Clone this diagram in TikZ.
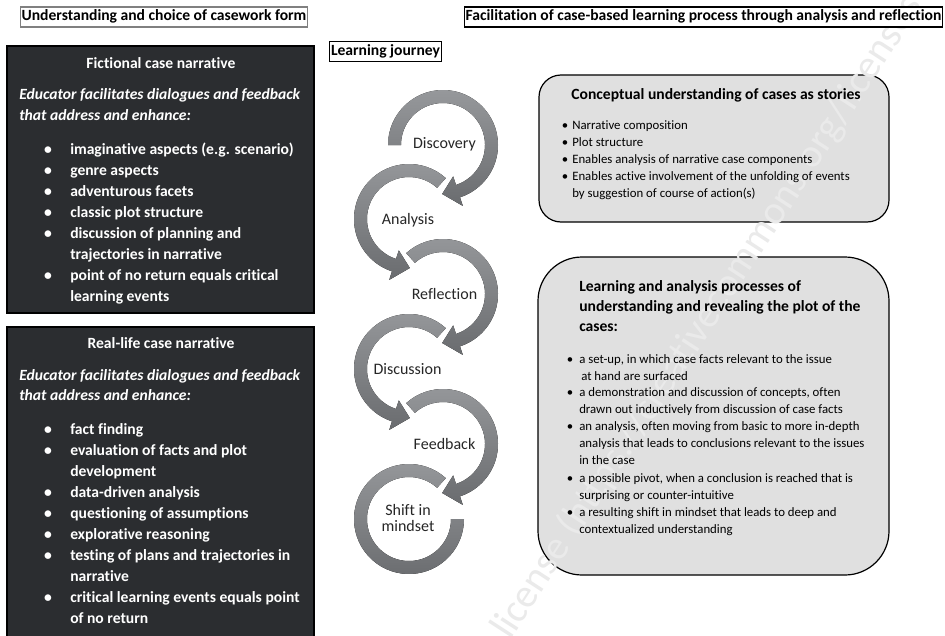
\documentclass[tikz,border=0pt]{standalone}
\usepackage{fontspec}
\setmainfont{Carlito}[Ligatures=NoCommon]
\usetikzlibrary{fit}
\definecolor{darkbox}{HTML}{2B2D30}
\definecolor{lightbox}{HTML}{E0E0E0}
\definecolor{arrowtop}{HTML}{96989B}
\definecolor{arrowbot}{HTML}{6A6C6F}
\definecolor{labelgray}{HTML}{262626}
\definecolor{wmark}{HTML}{EAEAEA}
\newcommand{\jhead}{\fontsize{11.7}{16}\selectfont\bfseries}
\newcommand{\jsmall}{\fontsize{9.6}{12.8}\selectfont}
\newcommand{\jlabel}{\fontsize{12}{13}\selectfont}
% circular arrow: #1 centre, #2 start angle, #3 end angle, #4 tip angle
\newcommand{\jarrow}[4]{%
  \fill[arrowshade] ([shift={(#2:55)}]#1) arc[start angle=#2, end angle=#3, radius=55]
    -- ([shift={(#3:64)}]#1) -- ([shift={(#4:49)}]#1) -- ([shift={(#3:33)}]#1)
    -- ([shift={(#3:42)}]#1) arc[start angle=#3, end angle=#2, radius=42] -- cycle;}
\tikzset{
  arrowshade/.style={top color=arrowtop, bottom color=arrowbot},
  panel/.style={draw=black, line width=1.1pt, fill=darkbox, inner sep=0pt},
  lpanel/.style={draw=black, line width=0.9pt, fill=lightbox, inner sep=0pt},
  titlebox/.style={draw=#1, line width=0.8pt, inner xsep=1pt, inner ysep=1.5pt,
    text height=9pt, text depth=3pt, font=\jhead},
  wline/.style={text=white, inner sep=0pt, anchor=base west, font=\jhead},
  wital/.style={text=white, inner sep=0pt, anchor=base west, font=\jhead\itshape},
  wcenter/.style={text=white, inner sep=0pt, anchor=base, font=\jhead},
  bline/.style={text=black, inner sep=0pt, anchor=base west, font=\jsmall},
  bhead/.style={text=black, inner sep=0pt, anchor=base west, font=\jhead},
  bbul/.style={text=black, inner sep=0pt, anchor=base, font=\jsmall},
  steplabel/.style={text=labelgray, inner sep=0pt, anchor=base, font=\jlabel},
  wmarkstyle/.style={text=wmark, inner sep=0pt, anchor=base west,
    font=\fontsize{30.2}{32}\selectfont}
}
\begin{document}
\begin{tikzpicture}[x=0.75pt,y=-0.75pt]
\useasboundingbox (0,0) rectangle (945,635);
\fill[white] (0,0) rectangle (945,635);

% ---- panels (drawn first)
\node[panel, fit={(7,46) (314,313)}] (fic) {};
\node[panel, fit={(7,327) (314,650)}] (real) {};
\draw[lpanel, rounded corners=16.5pt] (539,75) rectangle (889,222);
\draw[lpanel, rounded corners=33pt] (538,257) rectangle (889,575);

% ---- watermark (behind the texts)
\node[wmarkstyle, rotate=57] (wm) at (510,641) {license (https://creativecommons.org/licenses};

% ---- titles
\node[titlebox=gray] (tleft) at (164,17) {Understanding and choice of casework form};
\node[titlebox=black] (tjourney) at (385.5,51.5) {Learning journey};
\node[titlebox=black, fill=white] (tright) at (703.5,17) {Facilitation of case-based learning process through analysis and reflection};

% ---- left panel texts
\node[wcenter] (fictitle) at (161,68.3) {Fictional case narrative};
\node[wital] (ficed1) at (19,99.3) {Educator facilitates dialogues and feedback};
\node[wital] (ficed2) at (19,120) {that address and enhance:};
\foreach \y/\t [count=\i] in {154/{imaginative aspects (e.g. scenario)}, 175.1/{genre aspects},
  196.2/{adventurous facets}, 217.3/{classic plot structure}, 238.4/{discussion of planning and},
  259.5/{trajectories in narrative}, 280.6/{point of no return equals critical}, 301.7/{learning events}}
  \node[wline] (fl\i) at (70,\y) {\t};
\foreach \y [count=\i] in {154,175.1,196.2,217.3,238.4,280.6}
  \node[wcenter] (fb\i) at (48,\y) {\textbullet};

\node[wcenter] (realtitle) at (161,348.3) {Real-life case narrative};
\node[wital] (realed1) at (19,380) {Educator facilitates dialogues and feedback};
\node[wital] (realed2) at (19,400.7) {that address and enhance:};
\foreach \y/\t [count=\i] in {434/{fact finding}, 455.1/{evaluation of facts and plot},
  476.2/{development}, 497.3/{data-driven analysis}, 518.4/{questioning of assumptions},
  539.5/{explorative reasoning}, 560.6/{testing of plans and trajectories in},
  581.7/{narrative}, 602.8/{critical learning events equals point}, 623.9/{of no return}}
  \node[wline] (rl\i) at (70,\y) {\t};
\foreach \y [count=\i] in {434,455.1,497.3,518.4,539.5,560.6,602.8}
  \node[wcenter] (rb\i) at (48,\y) {\textbullet};

% ---- learning journey arrows
\coordinate (c1) at (443,145);
\coordinate (c2) at (409,219);
\coordinate (c3) at (443,294);
\coordinate (c4) at (409,369);
\coordinate (c5) at (443,444);
\coordinate (c6) at (409,519);
\jarrow{c1}{180}{432}{451}
\jarrow{c2}{-48}{-252}{-271}
\jarrow{c3}{228}{432}{451}
\jarrow{c4}{-48}{-252}{-271}
\jarrow{c5}{228}{432}{451}
\fill[arrowshade] ([shift={(-48:55)}]c6) arc[start angle=-48, end angle=-360, radius=55]
  -- ([shift={(0:42)}]c6) arc[start angle=-360, end angle=-48, radius=42] -- cycle;

\node[steplabel] (s1) at (444.5,148.3) {Discovery};
\node[steplabel] (s2) at (408,224) {Analysis};
\node[steplabel] (s3) at (444.5,299.3) {Reflection};
\node[steplabel] (s4) at (407.5,374) {Discussion};
\node[steplabel] (s5) at (444.5,449) {Feedback};
\node[steplabel] (s6a) at (408,515) {Shift in};
\node[steplabel] (s6b) at (408,531.7) {mindset};

% ---- right panel texts
\node[bhead, anchor=base] (conhead) at (716,99) {Conceptual understanding of cases as stories};
\foreach \y/\t [count=\i] in {129.3/{Narrative composition}, 146.3/{Plot structure},
  163.3/{Enables analysis of narrative case components},
  180.3/{Enables active involvement of the unfolding of events},
  197.3/{by suggestion of course of action(s)}}
  \node[bline] (cl\i) at (572,\y) {\t};
\foreach \y [count=\i] in {129.3,146.3,163.3,180.3}
  \node[bbul] (cb\i) at (565,\y) {\textbullet};

\node[bhead] (lh1) at (579,291.7) {Learning and analysis processes of};
\node[bhead] (lh2) at (579,311.7) {understanding and revealing the plot of the};
\node[bhead] (lh3) at (579,331.7) {cases:};
\foreach \y/\t [count=\i] in {363.3/{a set-up, in which case facts relevant to the issue},
  380/{\hspace{1.5pt}at hand are surfaced},
  396.7/{a demonstration and discussion of concepts, often},
  413.3/{drawn out inductively from discussion of case facts},
  430.5/{an analysis, often moving from basic to more in-depth},
  447.3/{analysis that leads to conclusions relevant to the issues},
  464/{in the case},
  482/{a possible pivot, when a conclusion is reached that is},
  499/{surprising or counter-intuitive},
  516.5/{a resulting shift in mindset that leads to deep and},
  533/{contextualized understanding}}
  \node[bline] (ll\i) at (579,\y) {\t};
\foreach \y [count=\i] in {363.3,396.7,430.5,482,516.5}
  \node[bbul] (lb\i) at (570,\y) {\textbullet};
\end{tikzpicture}
\end{document}
